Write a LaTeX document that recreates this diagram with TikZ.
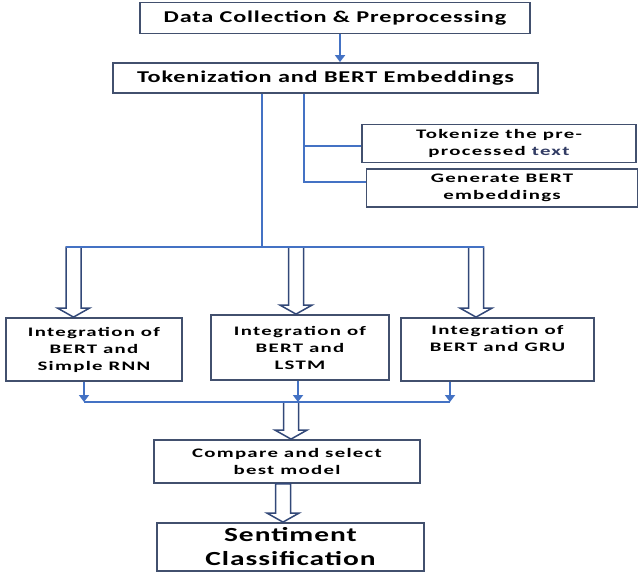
\documentclass[tikz,border=0pt]{standalone}
\usepackage{fontspec}
\setmainfont{Carlito}
\newfontfamily\fntA{Carlito}[FakeStretch=1.47,LetterSpace=5]
\newfontfamily\fntB{Carlito}[FakeStretch=1.6,LetterSpace=10]
\usetikzlibrary{arrows.meta,calc}
\definecolor{blueln}{RGB}{68,114,196}
\definecolor{boxc}{RGB}{66,80,110}
\definecolor{harrc}{RGB}{50,72,120}
\definecolor{textc}{RGB}{50,60,100}
\newcommand{\hollowdown}[2]{\path[hollowarrow] let \p1=(#1), \p2=(#2) in
  (\x1-7.5pt,\y1) -- (\x1-7.5pt,\y2+9pt) -- (\x1-16pt,\y2+9pt) -- (\x1,\y2)
  -- (\x1+16pt,\y2+9pt) -- (\x1+7.5pt,\y2+9pt) -- (\x1+7.5pt,\y1) -- cycle;}
\begin{document}
\begin{tikzpicture}[x=1pt,y=-1pt,
  box/.style={draw=boxc,line width=1.8pt,fill=white,align=center,inner sep=0pt,
    font=\fntB\bfseries\fontsize{13}{17}\selectfont},
  bigbox/.style={box,font=\fntA\bfseries\fontsize{16.5}{20}\selectfont},
  sentbox/.style={box,font=\fntA\bfseries\fontsize{20}{24}\selectfont},
  blueline/.style={draw=blueln,line width=2.8pt},
  bluearr/.style={blueline,-{Triangle[width=10pt,length=7pt]}},
  hollowarrow/.style={draw=harrc,line width=1.5pt,fill=white,line join=miter}]
\useasboundingbox (0,0) rectangle (639,573);

% boxes
\node[bigbox,minimum width=390,minimum height=31] (data) at (335,18) {Data Collection \& Preprocessing};
\node[bigbox,minimum width=425,minimum height=30] (tok) at (325.5,78) {Tokenization and BERT Embeddings};
\node[box,minimum width=274,minimum height=38] (tk1) at (499,143.5) {Tokenize the pre-\\processed \textcolor{textc}{text}};
\node[box,minimum width=271,minimum height=38] (tk2) at (502,188) {Generate BERT\\embeddings};
\node[box,minimum width=176,minimum height=63] (r1) at (94,349.5) {Integration of\\BERT and\\Simple RNN};
\node[box,minimum width=178,minimum height=65] (r2) at (300,347.5) {Integration of\\BERT and\\LSTM};
\node[box,minimum width=193,minimum height=63] (r3) at (497.5,349.5) {Integration of\\BERT and GRU\\\strut};
\node[box,minimum width=266,minimum height=43] (cmp) at (287,461.5) {Compare and select\\best model};
\node[sentbox,minimum width=267,minimum height=48] (sent) at (290.5,547) {Sentiment\\Classification};

% coordinates
\coordinate (ba) at (262,247);
\coordinate (bl) at (66,247);
\coordinate (br) at (484,247);
\coordinate (sp) at (304,182);
\coordinate (sq) at (304,146);
\coordinate (top) at (340,33);
\coordinate (h1) at (73.5,247);
\coordinate (h2) at (296,247);
\coordinate (h3) at (476,247);
\coordinate (h4) at (291,402);
\coordinate (h5) at (283,0);
\coordinate (d1) at (84,402);
\coordinate (d2) at (298,402);
\coordinate (d3) at (450,402);

% connectors
\draw[bluearr] (data.south -| top) -- (tok.north -| top);
\draw[blueline] (tok.south -| ba) -- (ba);
\draw[blueline] (tok.south -| sp) -- (sp) -- (tk2.west |- sp);
\draw[blueline] (sq) -- (tk1.west |- sq);

\hollowdown{h1}{r1.north}
\hollowdown{h2}{r2.north}
\hollowdown{h3}{r3.north}
\draw[blueline] (bl) -- (br);

\draw[bluearr] (r1.south -| d1) -- (d1);
\draw[bluearr] (r2.south -| d2) -- (d2);
\draw[bluearr] (r3.south -| d3) -- (d3);
\hollowdown{h4}{cmp.north}
\draw[blueline] (d1) -- (d3);
\hollowdown{cmp.south -| h5}{sent.north}
\end{tikzpicture}
\end{document}
